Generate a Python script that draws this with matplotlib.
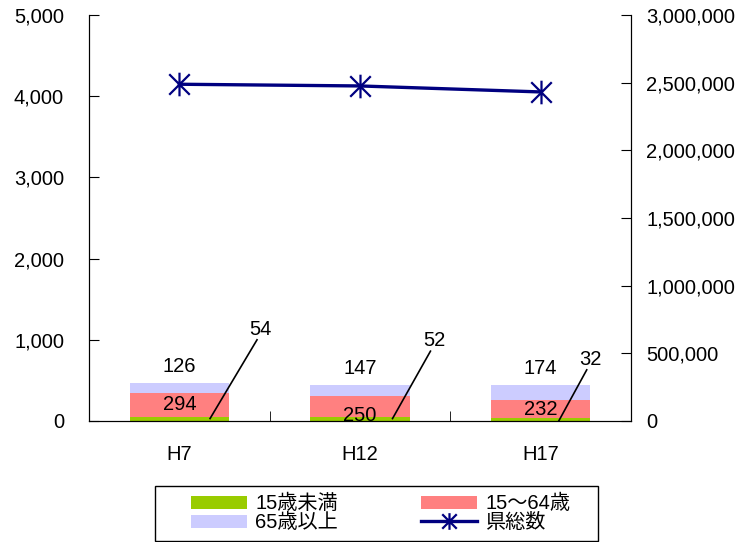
import matplotlib
matplotlib.use("Agg")
import matplotlib.pyplot as plt
from matplotlib.path import Path
from matplotlib.patches import Rectangle
from matplotlib.ticker import FuncFormatter
import numpy as np

plt.rcParams['font.family'] = ['Liberation Sans', 'Noto Sans CJK JP', 'DejaVu Sans']

years = ["H7", "H12", "H17"]
under15 = [54, 52, 32]
age15_64 = [294, 250, 232]
over65 = [126, 147, 174]
pref_total = [2488364, 2475733, 2431459]

labels = ["15歳未満", "15～64歳", "65歳以上", "県総数"]

col_green = "#99CC00"
col_red = "#FF8080"
col_lav = "#CCCCFF"
col_navy = "#000080"
fs = 14.5

fig = plt.figure(figsize=(7.46, 5.42), dpi=100)
ax = fig.add_axes([89 / 746, 1 - 421 / 542, 542 / 746, 406 / 542])

x = np.arange(len(years))
w = 0.55
b1 = ax.bar(x, under15, w, color=col_green, label=labels[0], zorder=2)
b2 = ax.bar(x, age15_64, w, bottom=under15, color=col_red, label=labels[1], zorder=2)
bottom3 = np.array(under15) + np.array(age15_64)
b3 = ax.bar(x, over65, w, bottom=bottom3, color=col_lav, label=labels[2], zorder=2)

ax.set_xlim(-0.5, 2.5)
ax.set_ylim(0, 5000)
ax.set_yticks(range(0, 5001, 1000))
ax.yaxis.set_major_formatter(FuncFormatter(lambda v, p: f"{int(v):,}"))
ax.set_xticks(x)
ax.set_xticklabels(years)
ax.set_xticks([0.5, 1.5], minor=True)
ax.tick_params(axis='x', which='major', length=0, pad=17, labelsize=fs)
ax.tick_params(axis='x', which='minor', direction='in', length=7)
ax.tick_params(axis='y', direction='in', length=7, pad=18, labelsize=fs)
ax.spines['top'].set_visible(False)

# labels for red and lavender segments
red_dy = [0, -110, -5]
for i in range(len(years)):
    ax.text(x[i], under15[i] + age15_64[i] / 2 + red_dy[i], str(age15_64[i]),
            ha='center', va='center', fontsize=fs, zorder=4, clip_on=False)
    ax.annotate(str(over65[i]), (x[i], bottom3[i] + over65[i]),
                xytext=(0, 5), textcoords='offset points',
                ha='center', va='bottom', fontsize=fs)

# leader lines for under-15 values
leader_from = [(0.17, 30), (0.18, 30), (0.10, 0)]
leader_to = [(0.43, 1000), (0.39, 860), (0.255, 630)]
for i in range(len(years)):
    fx, fy = leader_from[i]
    tx, ty = leader_to[i]
    ax.plot([x[i] + fx, x[i] + tx], [fy, ty], color='black', lw=1.2, zorder=3)
    ax.text(x[i] + tx + 0.02, ty + 10, str(under15[i]), ha='center', va='bottom', fontsize=fs)

ax2 = ax.twinx()
star = Path([(-1, -1), (1, 1), (-1, 1), (1, -1), (0, -1.15), (0, 1.15)],
            [Path.MOVETO, Path.LINETO, Path.MOVETO, Path.LINETO, Path.MOVETO, Path.LINETO])
ln, = ax2.plot(x, pref_total, color=col_navy, lw=2.4, marker=star, markersize=17,
               markeredgewidth=1.6, label=labels[3], zorder=5)
ax2.set_ylim(0, 3000000)
ax2.set_yticks(range(0, 3000001, 500000))
ax2.yaxis.set_major_formatter(FuncFormatter(lambda v, p: f"{int(v):,}"))
ax2.tick_params(axis='y', direction='in', length=7, pad=11, labelsize=fs)
ax2.spines['top'].set_visible(False)

# legend box drawn separately, entries row-wise like the original
fig.patches.append(Rectangle((155 / 746, 1 - 541 / 542), 443 / 746, 55 / 542,
                             transform=fig.transFigure, fill=False,
                             edgecolor='black', lw=1.0))
leg = fig.legend([b1, b3, b2, ln], [labels[0], labels[2], labels[1], labels[3]],
                 ncol=2, loc='upper left',
                 bbox_to_anchor=(191 / 746, 1 - 494 / 542),
                 fontsize=fs, frameon=False,
                 handlelength=2.8, handleheight=0.62, columnspacing=4.1,
                 labelspacing=0.0, borderpad=0, handletextpad=0.4,
                 borderaxespad=0)
for h in leg.legend_handles[3:]:
    h.set_markersize(12)

fig.savefig("out.png", dpi=100)
